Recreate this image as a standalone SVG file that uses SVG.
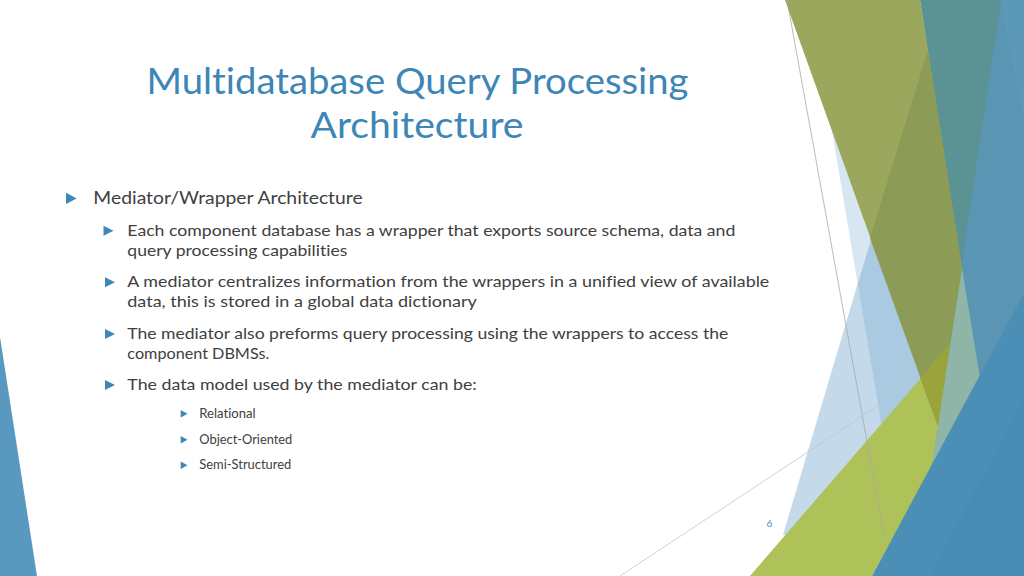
<svg xmlns="http://www.w3.org/2000/svg" width="1024" height="576" viewBox="0 0 1024 576">
<style>
text{font-variant-ligatures:none;font-feature-settings:"liga" 0,"clig" 0}
.title{font-family:Lato,"Open Sans","Liberation Sans",sans-serif;font-size:37px;fill:#3D86B5}
.t1{font-family:Lato,"Open Sans","Liberation Sans",sans-serif;font-size:17.5px;fill:#404040}
.t2{font-family:Lato,"Open Sans","Liberation Sans",sans-serif;font-size:16px;fill:#404040}
.t3{font-family:Lato,"Open Sans","Liberation Sans",sans-serif;font-size:12.5px;fill:#404040}
.bul{fill:#3F87B8}
.thin{stroke:#A8A8A8;stroke-width:0.8;fill:none}
.thin2{stroke:#BCC8D0;stroke-width:0.8;fill:none}
</style>
<rect width="1024" height="576" fill="#FFFFFF"/>
<g id="decoration">
  <polygon points="0,337 37,576 0,576" fill="#5A99BF"/>
  <polygon points="942,0 783,535 900,535 950,0" fill="#C4D9EA"/>
  <polygon points="810,0 884,440 905,440 935,0" fill="#D7E7F1"/>
  <polygon points="871,240 857.7,284 884,440 930,440 930,240" fill="#AACAE1"/>
  <polygon points="985,0 1024,0 1024,576 900,576 955,268" fill="#5A95B4"/>
  <polygon points="1000,0 1024,0 1024,120" fill="#5C98B8"/>
  <polygon points="920,0 1001,0 961,268" fill="#5B9294"/>
  <polygon points="750,576 952,342 932,466 872,576" fill="#AFC25A"/>
  <polygon points="785,0 920,0 962,268 938,426" fill="#9BA75C"/>
  <polygon points="928,50 962,268 938,426 870,238" fill="#8C9C56"/>
  <polygon points="920,378 950.8,342.3 938,426" fill="#9AA43C"/>
  <polygon points="962,268 980,378 932,466 938,426" fill="#8EB5A7"/>
  <polygon points="872,576 1024,293 1024,576" fill="#4B8EB6"/>
  <polygon points="930,576 1024,400 1024,576" fill="#468AB3" opacity="0.6"/>
  <line class="thin" x1="787" y1="0" x2="884" y2="535"/>
  <line class="thin2" x1="620" y1="576" x2="920" y2="378"/>
</g>
<g id="title">
  <text class="title" x="146.5" y="94" textLength="542" lengthAdjust="spacingAndGlyphs">Multidatabase Query Processing</text>
  <text class="title" x="310.5" y="138" textLength="213" lengthAdjust="spacingAndGlyphs">Architecture</text>
</g>
<g id="level1">
  <polygon class="bul" points="66,192.7 76.7,198.4 66,204"/>
  <text class="t1" x="93.3" y="204" textLength="269.4" lengthAdjust="spacingAndGlyphs">Mediator/Wrapper Architecture</text>
</g>
<g id="item-wrapper">
  <polygon class="bul" points="103.5,225.7 113.5,230.7 103.5,235.7"/>
  <text class="t2" x="127.3" y="235.7" textLength="608" lengthAdjust="spacingAndGlyphs">Each component database has a wrapper that exports source schema, data and</text>
  <text class="t2" x="127.3" y="255.7" textLength="220" lengthAdjust="spacingAndGlyphs">query processing capabilities</text>
</g>
<g id="item-mediator">
  <polygon class="bul" points="105,277.3 115,282.3 105,287.3"/>
  <text class="t2" x="127.3" y="287.3" textLength="642" lengthAdjust="spacingAndGlyphs">A mediator centralizes information from the wrappers in a unified view of available</text>
  <text class="t2" x="127.3" y="307.3" textLength="349.5" lengthAdjust="spacingAndGlyphs">data, this is stored in a global data dictionary</text>
</g>
<g id="item-query">
  <polygon class="bul" points="105,329 115,334 105,339"/>
  <text class="t2" x="127.3" y="339" textLength="601" lengthAdjust="spacingAndGlyphs">The mediator also preforms query processing using the wrappers to access the</text>
  <text class="t2" x="127.3" y="359" textLength="142" lengthAdjust="spacingAndGlyphs">component DBMSs.</text>
</g>
<g id="item-model">
  <polygon class="bul" points="105,380 115,385 105,390"/>
  <text class="t2" x="127.3" y="390" textLength="349.5" lengthAdjust="spacingAndGlyphs">The data model used by the mediator can be:</text>
</g>
<g id="sub-relational">
  <polygon class="bul" points="180.7,410 187.5,413.7 180.7,417.4"/>
  <text class="t3" x="199.3" y="417.7" textLength="56.4" lengthAdjust="spacingAndGlyphs">Relational</text>
</g>
<g id="sub-oo">
  <polygon class="bul" points="180.7,436 187.5,439.7 180.7,443.4"/>
  <text class="t3" x="199.3" y="443.7" textLength="93" lengthAdjust="spacingAndGlyphs">Object-Oriented</text>
</g>
<g id="sub-semi">
  <polygon class="bul" points="180.7,461.5 187.5,465.2 180.7,468.9"/>
  <text class="t3" x="199.3" y="469" textLength="92" lengthAdjust="spacingAndGlyphs">Semi-Structured</text>
</g>
<g id="page-number">
  <text x="766.5" y="527" font-family="Lato,'Open Sans','Liberation Sans',sans-serif" font-size="10" fill="#5A88B0">6</text>
</g>
</svg>
